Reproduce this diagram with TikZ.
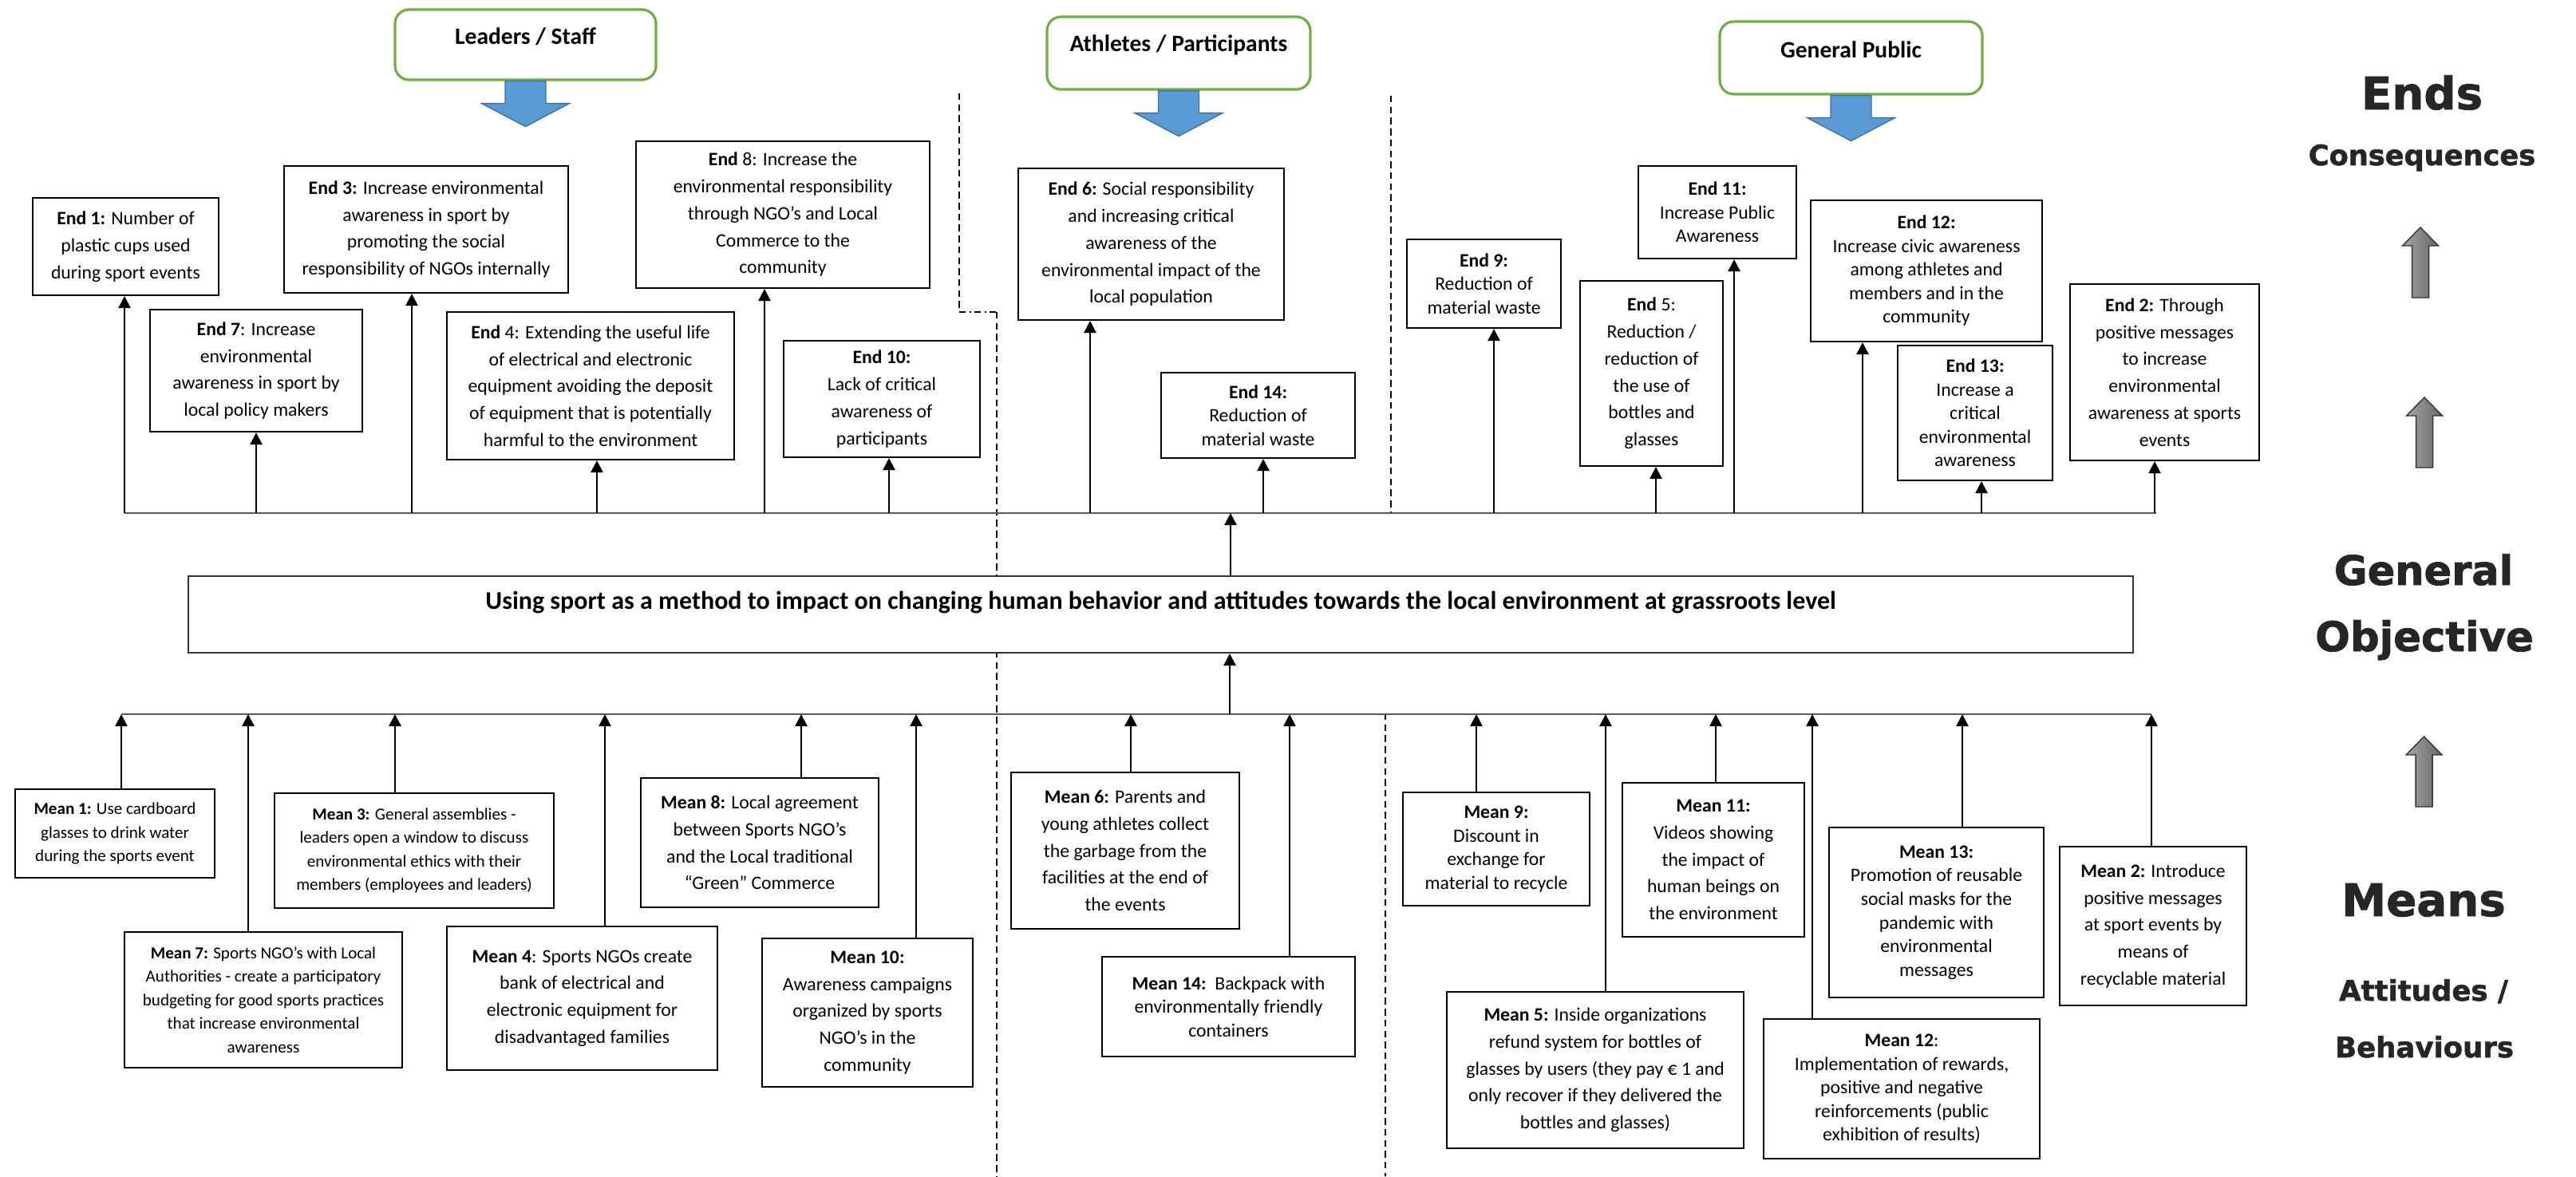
\documentclass[tikz,border=0pt]{standalone}
\usepackage{fontspec}
\setmainfont{Carlito}
\newfontfamily\labfont{DejaVu Sans}[BoldFeatures={FakeBold=1.6}]
\usepackage{tikz}
\usetikzlibrary{arrows.meta,
                calc,
                positioning}
\definecolor{hdrgreen}{HTML}{70AD47}
\definecolor{arrblue}{HTML}{5B9BD5}
\definecolor{arrblueedge}{HTML}{41719C}
\tikzset{
	%Define standard arrow tip
	>={Triangle[length=4.3pt,width=4.3pt]},
	%Define style for boxes
	endbox/.style={
	       rectangle,
	       draw=black, line width=0.6pt,
	       inner sep=0pt,
	       align=center,
	       font=\fontsize{6.75}{9.6}\selectfont},
	endtight/.style={
	       endbox,
	       font=\fontsize{6.75}{8.4}\selectfont},
	endsmall/.style={
	       endbox,
	       font=\fontsize{6.0}{8.4}\selectfont},
	boxsize/.style 2 args={
	       minimum width=#1cm,
	       minimum height=#2cm},
	hdrbox/.style={
	       rectangle,
	       rounded corners=5pt,
	       draw=hdrgreen, line width=0.9pt,
	       fill=white,
	       inner sep=0pt,
	       font=\bfseries\fontsize{8.4}{10}\selectfont},
	goalbox/.style={
	       rectangle,
	       draw=black!80, line width=0.6pt,
	       fill=white,
	       inner sep=0pt,
	       font=\bfseries\fontsize{9.1}{11}\selectfont},
	lvltext/.style={
	       anchor=base,
	       text=black!85,
	       font=\labfont\bfseries\fontsize{#1}{#1}\selectfont},
	% Define line and arrow styles
	busline/.style={draw=black!65, line width=0.5pt},
	pil/.style={->, line width=0.7pt},
	sepline/.style={dash pattern=on 2.4pt off 1.5pt, line width=0.4pt},
	downarr/.style={fill=arrblue, draw=arrblueedge, line width=0.4pt},
	uparr/.style={left color=black!35, right color=black!60, draw=black!80, line width=0.4pt}
}

\begin{document}
\begin{tikzpicture}
	\useasboundingbox (0,0) rectangle (32.28,-14.74);
	% group separators
	\draw[sepline] (12.02,-1.17) -- (12.02,-3.91);
	\draw[sepline, dash pattern=on 2.4pt off 1.2pt on 0.6pt off 1.2pt] (12.02,-3.91) -- (12.49,-3.91);
	\draw[sepline] (12.49,-3.91) -- (12.49,-14.74);
	\draw[sepline] (17.43,-1.20) -- (17.43,-6.43);
	\draw[sepline] (17.36,-8.94) -- (17.36,-14.74);

	% target groups
	\node[hdrbox, minimum width=3.27cm, text height=0.43cm, text depth=0.45cm] (lead) at (6.585,-0.56) {Leaders / Staff};
	\node[hdrbox, minimum width=3.30cm, text height=0.43cm, text depth=0.48cm] (ath) at (14.77,-0.665) {Athletes / Participants};
	\node[hdrbox, minimum width=3.29cm, text height=0.45cm, text depth=0.46cm] (pub) at (23.195,-0.725) {General Public};
	\foreach \h in {lead,ath,pub}
		\draw[downarr] ([xshift=-2.55mm]\h.south) -- ++(0,-2.8mm) -- ++(-2.95mm,0) -- ++(5.5mm,-2.9mm)
			-- ++(5.5mm,2.9mm) -- ++(-2.95mm,0) -- ++(0,2.8mm) -- cycle;

	% ends
	\node[endbox, boxsize={2.33}{1.22}] (end1) at (1.575,-3.09) {\textbf{End 1:} Number of\\plastic cups used\\during sport events};
	\node[endbox, boxsize={2.66}{1.53}] (end7) at (3.21,-4.645) {\textbf{End 7}: Increase\\environmental\\awareness in sport by\\local policy makers};
	\node[endbox, boxsize={3.56}{1.59}] (end3) at (5.34,-2.875) {\textbf{End 3:} Increase environmental\\awareness in sport by\\promoting the social\\responsibility of NGOs internally};
	\node[endbox, boxsize={3.60}{1.85}] (end4) at (7.40,-4.835) {\textbf{End} 4: Extending the useful life\\of electrical and electronic\\equipment avoiding the deposit\\of equipment that is potentially\\harmful to the environment};
	\node[endbox, boxsize={3.68}{1.84}] (end8) at (9.81,-2.69) {\textbf{End} 8: Increase the\\environmental responsibility\\through NGO's and Local\\Commerce to the\\community};
	\node[endbox, boxsize={2.46}{1.46}] (end10) at (11.05,-5.00) {\textbf{End 10:}\\Lack of critical\\awareness of\\participants};
	\node[endbox, boxsize={3.33}{1.90}] (end6) at (14.425,-3.06) {\textbf{End 6:} Social responsibility\\and increasing critical\\awareness of the\\environmental impact of the\\local population};
	\node[endtight, boxsize={2.43}{1.07}] (end14) at (15.765,-5.205) {\textbf{End 14:}\\Reduction of\\material waste};
	\node[endtight, boxsize={1.93}{1.11}] (end9) at (18.595,-3.555) {\textbf{End 9:}\\Reduction of\\material waste};
	\node[endbox, boxsize={1.79}{2.32}] (end5) at (20.695,-4.68) {\textbf{End} 5:\\Reduction /\\reduction of\\the use of\\bottles and\\glasses};
	\node[endtight, boxsize={1.98}{1.16}] (end11) at (21.52,-2.66) {\textbf{End 11:}\\Increase Public\\Awareness};
	\node[endtight, boxsize={2.90}{1.77}] (end12) at (24.14,-3.395) {\textbf{End 12:}\\Increase civic awareness\\among athletes and\\members and in the\\community};
	\node[endtight, boxsize={1.94}{1.69}] (end13) at (24.75,-5.175) {\textbf{End 13:}\\Increase a\\critical\\environmental\\awareness};
	\node[endbox, boxsize={2.37}{2.21}] (end2) at (27.125,-4.665) {\textbf{End 2:} Through\\positive messages\\to increase\\environmental\\awareness at sports\\events};

	% general objective
	\node[goalbox, minimum width=24.37cm, text height=0.41cm, text depth=0.55cm] (goal) at (14.545,-7.70) {Using sport as a method to impact on changing human behavior and attitudes towards the local environment at grassroots level};

	% means
	\node[endsmall, boxsize={2.50}{1.11}] (mean1) at (1.44,-10.445) {\textbf{Mean 1:} Use cardboard\\glasses to drink water\\during the sports event};
	\node[endsmall, boxsize={3.48}{1.70}] (mean7) at (3.30,-12.53) {\textbf{Mean 7:} Sports NGO's with Local\\Authorities - create a participatory\\budgeting for good sports practices\\that increase environmental\\awareness};
	\node[endsmall, boxsize={3.50}{1.44}] (mean3) at (5.19,-10.66) {\textbf{Mean 3:} General assemblies -\\leaders open a window to discuss\\environmental ethics with their\\members (employees and leaders)};
	\node[endbox, boxsize={3.39}{1.80}] (mean4) at (7.295,-12.51) {\textbf{Mean 4}: Sports NGOs create\\bank of electrical and\\electronic equipment for\\disadvantaged families};
	\node[endbox, boxsize={2.98}{1.62}] (mean8) at (9.52,-10.56) {\textbf{Mean 8:} Local agreement\\between Sports NGO’s\\and the Local traditional\\“Green” Commerce};
	\node[endbox, boxsize={2.64}{1.86}] (mean10) at (10.87,-12.69) {\textbf{Mean 10:}\\Awareness campaigns\\organized by sports\\NGO’s in the\\community};
	\node[endbox, boxsize={2.86}{1.96}] (mean6) at (14.10,-10.66) {\textbf{Mean 6:} Parents and\\young athletes collect\\the garbage from the\\facilities at the end of\\the events};
	\node[endtight, boxsize={3.17}{1.25}] (mean14) at (15.395,-12.615) {\textbf{Mean 14:}\ \ Backpack with\\environmentally friendly\\containers};
	\node[endtight, boxsize={2.34}{1.42}] (mean9) at (18.75,-10.64) {\textbf{Mean 9:}\\Discount in\\exchange for\\material to recycle};
	\node[endbox, boxsize={3.72}{1.96}] (mean5) at (19.99,-13.41) {\textbf{Mean 5:} Inside organizations\\refund system for bottles of\\glasses by users (they pay € 1 and\\only recover if they delivered the\\bottles and glasses)};
	\node[endbox, boxsize={2.28}{1.93}] (mean11) at (21.47,-10.775) {\textbf{Mean 11:}\\Videos showing\\the impact of\\human beings on\\the environment};
	\node[endtight, boxsize={2.69}{2.13}] (mean13) at (24.265,-11.435) {\textbf{Mean 13:}\\Promotion of reusable\\social masks for the\\pandemic with\\environmental\\messages};
	\node[endtight, boxsize={3.46}{1.75}] (mean12) at (23.83,-13.645) {\textbf{Mean 12}:\\Implementation of rewards,\\positive and negative\\reinforcements (public\\exhibition of results)};
	\node[endbox, boxsize={2.34}{1.99}] (mean2) at (26.98,-11.605) {\textbf{Mean 2:} Introduce\\positive messages\\at sport events by\\means of\\recyclable material};

	% bus lines
	\coordinate (topL) at (1.56,-6.43);
	\coordinate (topR) at (27.02,-6.43);
	\coordinate (botL) at (1.52,-8.95);
	\coordinate (botR) at (26.96,-8.95);
	\draw[busline] (topL) -- (topR);
	\draw[busline] (botL) -- (botR);

	% arrows
	\foreach \n/\dx in {end1/-0.015, end7/0, end3/-0.18, end4/0.08, end8/-0.23, end10/0.09, end6/-0.765,
		end14/0.065, end9/0.125, end5/0.055, end11/0.21, end12/-0.80, end13/0.08, end2/-0.125}
		\draw[pil] ([xshift=\dx cm]\n.south |- topL) -- ([xshift=\dx cm]\n.south);
	\foreach \n/\dx in {mean1/0.08, mean7/-0.19, mean3/-0.24, mean4/0.285, mean8/0.52, mean10/0.61, mean6/0.07,
		mean14/0.765, mean9/-0.25, mean5/0.13, mean11/0.03, mean13/0.325, mean12/-1.12, mean2/-0.02}
		\draw[pil] ([xshift=\dx cm]\n.north) -- ([xshift=\dx cm]\n.north |- botL);
	\draw[pil] ([xshift=8.75mm]goal.north) -- ([xshift=8.75mm]goal.north |- topL);
	\draw[pil] ([xshift=8.65mm]goal.south |- botL) -- ([xshift=8.65mm]goal.south);

	% level labels
	\node[lvltext=16] (lends) at (30.35,-1.37) {Ends};
	\node[lvltext=10] (lcons) at (30.35,-2.07) {Consequences};
	\node[lvltext=14.5] (lgen) at (30.37,-7.33) {General};
	\node[lvltext=14.6] (lobj) at (30.38,-8.16) {Objective};
	\node[lvltext=16] (lmeans) at (30.37,-11.48) {Means};
	\node[lvltext=10.1] (latt) at (30.37,-12.54) {Attitudes /};
	\node[lvltext=10.1] (lbeh) at (30.38,-13.25) {Behaviours};
	\foreach \x/\y in {30.33/-3.73, 30.38/-5.86, 30.375/-10.11}
		\draw[uparr] (\x-0.105,\y) -- (\x-0.105,\y+0.65) -- (\x-0.225,\y+0.65) -- (\x,\y+0.88)
			-- (\x+0.225,\y+0.65) -- (\x+0.105,\y+0.65) -- (\x+0.105,\y) -- cycle;
\end{tikzpicture}
\end{document}
